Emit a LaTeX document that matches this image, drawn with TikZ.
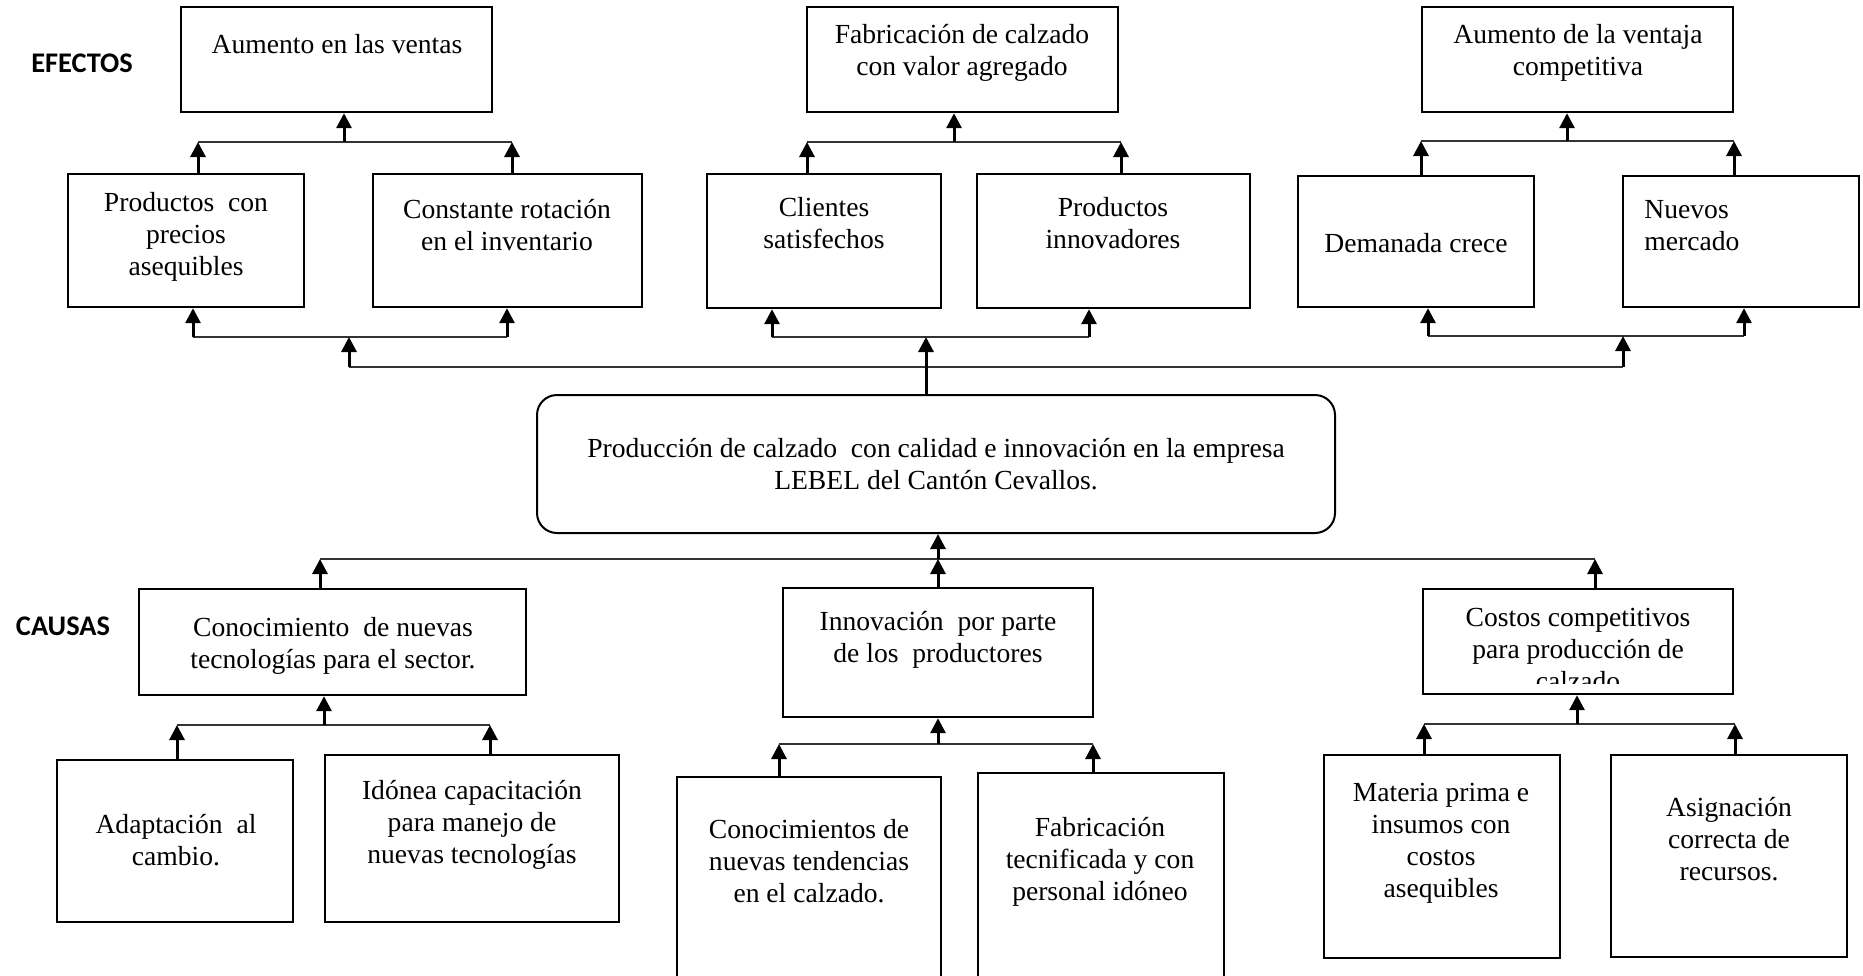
\documentclass[tikz,border=0pt]{standalone}
\usepackage{fontspec}
\setmainfont{Liberation Serif}
\newfontfamily\sidefont{Carlito}
\usetikzlibrary{arrows.meta}

% box from corner (x1,y1) to corner (x2,y2), coordinates in pixels
\newcommand{\caja}[5]{%
  \node[box, minimum width={(#4-#2)*0.5pt}, minimum height={(#5-#3)*0.5pt}]
    (#1) at ({(#2+#4)/2},{(#3+#5)/2}) {};}

\begin{document}
\begin{tikzpicture}[x=0.5pt,y=-0.5pt,
  box/.style={draw, line width=1.2pt, rectangle, inner sep=0pt},
  % text nodes are placed by the baseline of their last line
  txt/.style={align=center, inner sep=0pt, anchor=base, font=\fontsize{13.8}{16}\selectfont},
  side/.style={inner sep=0pt, anchor=base, font=\sidefont\bfseries\fontsize{14.2}{17}\selectfont},
  arr/.style={line width=1.5pt, -{Triangle[length=7.5pt,width=7.5pt]}},
  bar/.style={line width=0.8pt, black!80},
]
\clip (0,0) rectangle (1863,975);

% ---------------- side headings ----------------
\node[side] (efectos) at (82,72) {EFECTOS};
\node[side] (causas) at (63,635) {CAUSAS};

% ---------------- effects, top row ----------------
\caja{a1}{181}{7}{492}{112}
\caja{b1}{807}{7}{1118}{112}
\caja{c1}{1422}{7}{1733}{112}
\node[txt] (a1t) at (337,53) {Aumento en las ventas};
\node[txt] (b1t) at (962,75) {Fabricación de calzado\\con valor agregado};
\node[txt] (c1t) at (1578,75) {Aumento de la ventaja\\competitiva};

% ---------------- effects, second row ----------------
\caja{p1}{68}{174}{304}{307}
\caja{p2}{373}{174}{642}{307}
\caja{q1}{707}{174}{941}{308}
\caja{q2}{977}{174}{1250}{308}
\caja{r1}{1298}{176}{1534}{307}
\caja{r2}{1623}{176}{1859}{307}
\node[txt] (p1t) at (186,275) {Productos\ \ con\\precios\\asequibles};
\node[txt] (p2t) at (507,250) {Constante rotación\\en el inventario};
\node[txt] (q1t) at (824,248) {Clientes\\satisfechos};
\node[txt] (q2t) at (1113,248) {Productos\\innovadores};
\node[txt] (r1t) at (1416,252) {Demanada crece};
\node[txt, align=left, anchor=base west] (r2t) at (1644,250) {Nuevos\\mercado};

% ---------------- central problem ----------------
\node[draw, line width=1pt, rounded corners=10pt, minimum width=399pt,
      minimum height=69pt, inner sep=0pt] (prob) at (936,464) {};
\node[txt] (probt) at (936,489)
  {Producción de calzado\ \ con calidad e innovación en la empresa\\LEBEL del Cantón Cevallos.};

% ---------------- causes, first row ----------------
\caja{d1}{139}{589}{526}{695}
\caja{d2}{783}{588}{1093}{717}
\caja{d3}{1423}{589}{1733}{694}
\node[txt] (d1t) at (333,668) {Conocimiento\ \ de nuevas\\tecnologías para el sector.};
\node[txt] (d2t) at (938,662) {Innovación\ \ por parte\\de los\ \ productores};
\begin{scope}
  \clip (1426,592) rectangle (1730,683);
  \node[txt] (d3t) at (1578,690) {Costos competitivos\\para producción de\\calzado};
\end{scope}

% ---------------- causes, second row ----------------
\caja{e1}{57}{760}{293}{922}
\caja{e2}{325}{755}{619}{922}
\caja{e3}{677}{777}{941}{1010}
\caja{e4}{978}{773}{1224}{1010}
\caja{e5}{1324}{755}{1560}{958}
\caja{e6}{1611}{755}{1847}{957}
\node[txt] (e1t) at (176,865) {Adaptación\ \ al\\cambio.};
\node[txt] (e2t) at (472,863) {Idónea capacitación\\para manejo de\\nuevas tecnologías};
\node[txt] (e3t) at (809,902) {Conocimientos de\\nuevas tendencias\\en el calzado.};
\node[txt] (e4t) at (1100,900) {Fabricación\\tecnificada y con\\personal idóneo};
\node[txt] (e5t) at (1441,897) {Materia prima e\\insumos con\\costos\\asequibles};
\node[txt] (e6t) at (1729,880) {Asignación\\correcta de\\recursos.};

% ---------------- junction points ----------------
% effects: upper bars
\coordinate (ja) at (344,142);  \coordinate (jaL) at (198,142);  \coordinate (jaR) at (512,142);
\coordinate (jb) at (954,142);  \coordinate (jbL) at (807,142);  \coordinate (jbR) at (1121,142);
\coordinate (jc) at (1567,141); \coordinate (jcL) at (1421,141); \coordinate (jcR) at (1734,141);
% effects: lower bars
\coordinate (ka) at (349,337);  \coordinate (kaL) at (193,337);  \coordinate (kaR) at (507,337);
\coordinate (kb) at (926,337);  \coordinate (kbL) at (772,337);  \coordinate (kbR) at (1089,337);
\coordinate (kc) at (1623,336); \coordinate (kcL) at (1428,336); \coordinate (kcR) at (1744,336);
\coordinate (longL) at (349,367); \coordinate (longR) at (1623,367);
% causes
\coordinate (cc) at (938,559); \coordinate (ccL) at (320,559); \coordinate (ccR) at (1595,559);
\coordinate (m1) at (324,725);  \coordinate (m1L) at (177,725);  \coordinate (m1R) at (490,725);
\coordinate (m2) at (938,744);  \coordinate (m2L) at (779,744);  \coordinate (m2R) at (1093,744);
\coordinate (m3) at (1577,724); \coordinate (m3L) at (1424,724); \coordinate (m3R) at (1735,724);

% ---------------- bars ----------------
\draw[bar] (jaL) -- (jaR);
\draw[bar] (jbL) -- (jbR);
\draw[bar] (jcL) -- (jcR);
\draw[bar] (kaL) -- (kaR);
\draw[bar] (kbL) -- (kbR);
\draw[bar] (kcL) -- (kcR);
\draw[bar] (longL) -- (longR);
\draw[bar] (ccL) -- (ccR);
\draw[bar] (m1L) -- (m1R);
\draw[bar] (m2L) -- (m2R);
\draw[bar] (m3L) -- (m3R);

% ---------------- arrows: effects ----------------
\draw[arr] (ja) -- (ja |- a1.south);
\draw[arr] (jb) -- (jb |- b1.south);
\draw[arr] (jc) -- (jc |- c1.south);
\draw[arr] (p1.north -| jaL) -- (jaL);
\draw[arr] (p2.north -| jaR) -- (jaR);
\draw[arr] (q1.north -| jbL) -- (jbL);
\draw[arr] (q2.north -| jbR) -- (jbR);
\draw[arr] (r1.north -| jcL) -- (jcL);
\draw[arr] (r2.north -| jcR) -- (jcR);
\draw[arr] (kaL) -- (kaL |- p1.south);
\draw[arr] (kaR) -- (kaR |- p2.south);
\draw[arr] (kbL) -- (kbL |- q1.south);
\draw[arr] (kbR) -- (kbR |- q2.south);
\draw[arr] (kcL) -- (kcL |- r1.south);
\draw[arr] (kcR) -- (kcR |- r2.south);
\draw[arr] (longL) -- (ka);
\draw[arr] (longR) -- (kc);
\draw[arr] (prob.north -| kb) -- (kb);

% ---------------- arrows: causes ----------------
\draw[arr] (cc) -- (cc |- prob.south);
\draw[arr] (d1.north -| ccL) -- (ccL);
\draw[arr] (d2.north -| cc) -- (cc);
\draw[arr] (d3.north -| ccR) -- (ccR);
\draw[arr] (m1) -- (m1 |- d1.south);
\draw[arr] (m2) -- (m2 |- d2.south);
\draw[arr] (m3) -- (m3 |- d3.south);
\draw[arr] (e1.north -| m1L) -- (m1L);
\draw[arr] (e2.north -| m1R) -- (m1R);
\draw[arr] (e3.north -| m2L) -- (m2L);
\draw[arr] (e4.north -| m2R) -- (m2R);
\draw[arr] (e5.north -| m3L) -- (m3L);
\draw[arr] (e6.north -| m3R) -- (m3R);
\end{tikzpicture}
\end{document}
